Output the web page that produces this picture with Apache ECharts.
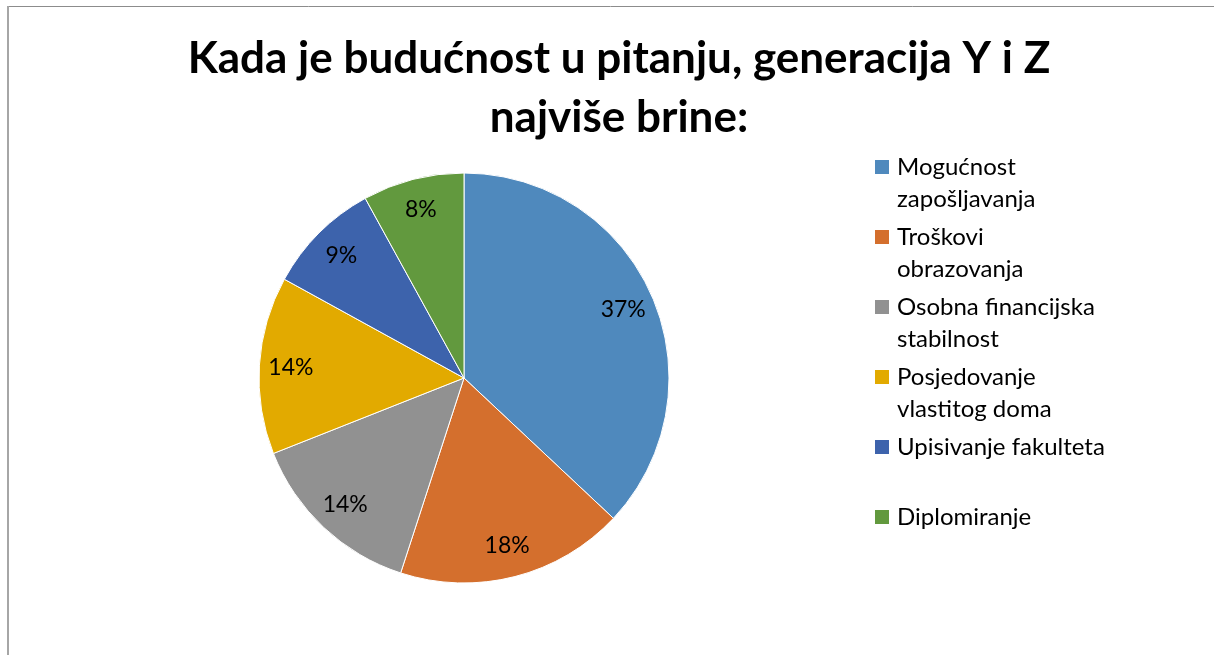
<!DOCTYPE html>
<html>
<head>
<meta charset="utf-8">
<title>Kada je budućnost u pitanju</title>
<script src="https://cdn.jsdelivr.net/npm/echarts@6/dist/echarts.min.js"></script>
<style>
  html, body { margin: 0; padding: 0; background: #fff; }
  #chart { width: 1214px; height: 655px; }
</style>
</head>
<body>
<div id="chart"></div>
<script>
// podaci
var categories = [
  "Mogućnost zapošljavanja",
  "Troškovi obrazovanja",
  "Osobna financijska stabilnost",
  "Posjedovanje vlastitog doma",
  "Upisivanje fakulteta",
  "Diplomiranje"
];
var values = [37, 18, 14, 14, 9, 8];
var legendText = [
  "Mogućnost\nzapošljavanja",
  "Troškovi\nobrazovanja",
  "Osobna financijska\nstabilnost",
  "Posjedovanje\nvlastitog doma",
  "Upisivanje fakulteta",
  "Diplomiranje"
];
var colors = ["#4F89BD", "#D46F2D", "#919191", "#E2AA00", "#3D63AC", "#62993E"];
var titleText = "Kada je budućnost u pitanju, generacija Y i Z\nnajviše brine:";

var font = "Lato, 'Open Sans', sans-serif";
var myChart = echarts.init(document.getElementById("chart"));

var pieData = categories.map(function (name, i) {
  return { name: name, value: values[i] };
});

// ikona legende: kvadrat uz prvi red teksta (okvir 14x64, dva reda po 32)
var legendIcon = "path://M0,0H14M0,9H14V23H0ZM0,64H14";

var option = {
  animation: false,
  color: colors,
  title: {
    text: titleText,
    left: 614,
    textAlign: "center",
    top: 24,
    textStyle: {
      fontFamily: font,
      fontWeight: "bold",
      fontSize: 44,
      lineHeight: 59,
      color: "#000"
    }
  },
  legend: {
    orient: "vertical",
    left: 875,
    top: 151,
    padding: 0,
    itemGap: 6,
    itemWidth: 14,
    itemHeight: 64,
    icon: legendIcon,
    itemStyle: { borderWidth: 0 },
    textStyle: {
      fontFamily: font,
      fontSize: 24,
      lineHeight: 32,
      color: "#000",
      padding: [0, 0, 0, 3],
      rich: {
        // jednoredni tekst ide u gornji red
        one: {
          fontFamily: font,
          fontSize: 24,
          lineHeight: 32,
          color: "#000",
          padding: [0, 0, 32, 0]
        }
      }
    },
    formatter: function (name) {
      var t = legendText[categories.indexOf(name)];
      return t.indexOf("\n") >= 0 ? t : "{one|" + t + "}";
    },
    data: categories
  },
  graphic: [
    {
      type: "line",
      silent: true,
      shape: { x1: 7, y1: 6.5, x2: 1214, y2: 6.5 },
      style: { stroke: "#8c8c8c", lineWidth: 1 }
    },
    {
      type: "line",
      silent: true,
      shape: { x1: 8, y1: 6, x2: 8, y2: 655 },
      style: { stroke: "#a6a6a6", lineWidth: 2 }
    }
  ],
  series: [
    {
      name: "pie",
      type: "pie",
      center: [464, 378],
      radius: [0, 205],
      startAngle: 90,
      clockwise: true,
      silent: true,
      itemStyle: { borderColor: "#fff", borderWidth: 1 },
      label: { show: false },
      labelLine: { show: false },
      data: pieData
    },
    {
      // samo za oznake postotaka (na ~0.83 polumjera)
      name: "labels",
      type: "pie",
      center: [464, 378],
      radius: [136, 205],
      startAngle: 90,
      clockwise: true,
      silent: true,
      legendHoverLink: false,
      itemStyle: { color: "rgba(0,0,0,0)", borderWidth: 0 },
      label: {
        show: true,
        position: "inside",
        formatter: "{c}%",
        fontFamily: font,
        fontSize: 23,
        color: "#000"
      },
      labelLine: { show: false },
      data: pieData
    }
  ]
};

myChart.setOption(option);
</script>
</body>
</html>
